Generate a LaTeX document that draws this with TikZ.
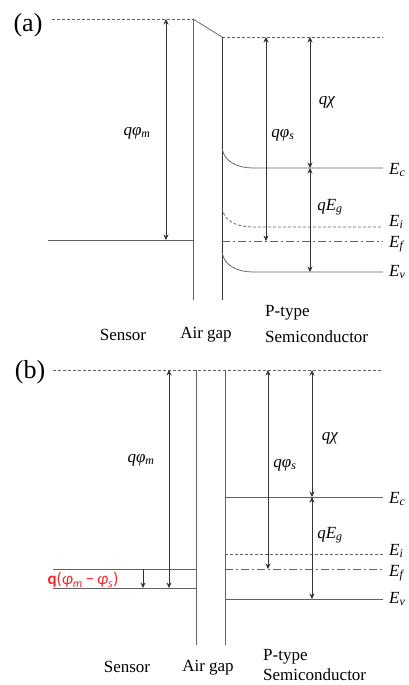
\documentclass[tikz,border=0pt]{standalone}
\usepackage{fontspec}
\setmainfont{Liberation Serif}
\newfontfamily\redfont{Carlito}
\usetikzlibrary{arrows.meta}
\definecolor{lblred}{HTML}{F02828}
\newcommand\qsub[2]{\textit{q#1}\textsubscript{\textit{#2}}}
\newcommand\Esub[1]{\textit{E}\textsubscript{\textit{#1}}}
\begin{document}
\begin{tikzpicture}[x=1pt,y=-1pt,
  ln/.style={draw=black!62, line width=0.75pt},
  dsh/.style={ln, dash pattern=on 3pt off 2pt},
  dashdot/.style={ln, dash pattern=on 8pt off 3pt on 2pt off 3pt},
  dim/.style={draw=black!80, line width=0.6pt, {Stealth[length=5.5pt,width=5pt]}-{Stealth[length=5.5pt,width=5pt]}},
  lbl/.style={font=\fontsize{17}{20}\selectfont, inner sep=0pt},
  big/.style={font=\fontsize{26}{30}\selectfont, inner sep=0pt},
  elbl/.style={lbl, anchor=west}]
\useasboundingbox (0,0) rectangle (409,685);
% ---------------- panel (a)
\node[big] (la) at (28,25) {(a)};
\draw[dsh] (52,19) -- (193,19);
\draw[ln] (193,19) -- (222,37);
\draw[dsh] (222,37) -- (383,37);
\draw[ln] (193,19) -- (193,300);
\draw[draw=black!80, line width=0.75pt] (222,37) -- (222,300);
\draw[ln] (48,240) -- (193,240);
\draw[ln] (222,148) .. controls (224,162) and (238,168) .. (253,168) -- (383,168);
\draw[dsh] (222,208) .. controls (224,222) and (238,227) .. (253,227) -- (383,227);
\draw[dashdot] (222,241) -- (383,241);
\draw[ln] (222,252) .. controls (224,266) and (238,272) .. (253,272) -- (383,272);
\draw[dim] (166,19) -- (166,240);
\draw[dim] (266,37) -- (266,241);
\draw[dim] (310,37) -- (310,168);
\draw[dim] (310,168) -- (310,272);
\node[lbl] (a1) at (137,133) {\qsub{φ}{m}};
\node[lbl] (a2) at (283,135) {\qsub{φ}{s}};
\node[lbl] (a3) at (327,102) {\textit{qχ}};
\node[lbl] (a4) at (330,207) {\textit{q}\Esub{g}};
\node[elbl] (aEc) at (389,170) {\Esub{c}};
\node[elbl] (aEi) at (389,222) {\Esub{i}};
\node[elbl] (aEf) at (389,244) {\Esub{f}};
\node[elbl] (aEv) at (389,272) {\Esub{v}};
\node[lbl] (aS) at (123,335) {Sensor};
\node[lbl] (aA) at (206,335) {Air gap};
\node[lbl, anchor=west] (aP) at (265,313) {P-type};
\node[lbl, anchor=west] (aSc) at (265,337) {Semiconductor};
% ---------------- panel (b)
\node[big] (lb) at (30,372) {(b)};
\draw[dsh] (53,370) -- (383,370);
\draw[ln] (196,370) -- (196,645);
\draw[ln] (225,370) -- (225,645);
\draw[ln] (53,569) -- (196,569);
\draw[ln] (53,588) -- (196,588);
\draw[ln] (225,497) -- (383,497);
\draw[dsh] (225,554) -- (383,554);
\draw[dashdot] (225,569) -- (383,569);
\draw[ln] (225,599) -- (383,599);
\draw[dim] (169,370) -- (169,588);
\draw[dim] (268,370) -- (268,569);
\draw[dim] (312,370) -- (312,497);
\draw[dim] (312,497) -- (312,599);
\draw[draw=black!80, line width=0.6pt, -{Stealth[length=5.5pt,width=5pt]}] (143,569) -- (143,588);
\node[lbl] (b1) at (141,460) {\qsub{φ}{m}};
\node[lbl] (b2) at (285,465) {\qsub{φ}{s}};
\node[lbl] (b3) at (330,438) {\textit{qχ}};
\node[lbl] (b4) at (330,535) {\textit{q}\Esub{g}};
\node[lbl, text=lblred, font=\redfont\fontsize{17}{20}\selectfont] (bq) at (83,580) {\textbf{q}(\textit{φ}\textsubscript{\textit{m}}\,−\,\textit{φ}\textsubscript{\textit{s}})};
\node[elbl] (bEc) at (389,499) {\Esub{c}};
\node[elbl] (bEi) at (389,551) {\Esub{i}};
\node[elbl] (bEf) at (389,573) {\Esub{f}};
\node[elbl] (bEv) at (389,599) {\Esub{v}};
\node[lbl] (bS) at (127,667) {Sensor};
\node[lbl] (bA) at (208,668) {Air gap};
\node[lbl, anchor=west] (bP) at (263,657) {P-type};
\node[lbl, anchor=west] (bSc) at (263,675) {Semiconductor};
\end{tikzpicture}
\end{document}
